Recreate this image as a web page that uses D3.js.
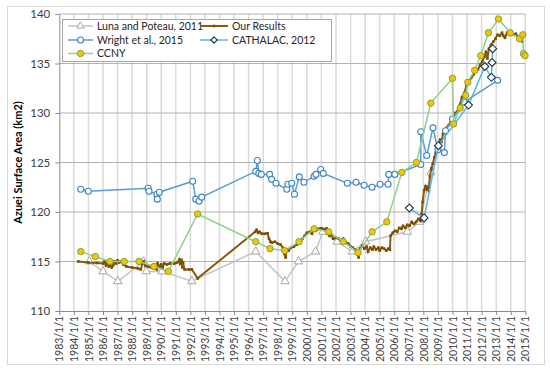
<!DOCTYPE html>
<html>
<head>
<meta charset="utf-8">
<script src="https://cdn.jsdelivr.net/npm/d3@7"></script>
<style>
  body { margin: 0; background: #fff; }
  text { font-family: Lato, "Open Sans", sans-serif; }
</style>
</head>
<body>
<svg id="chart" width="550" height="370"></svg>
<script>
// ---- dados (ano decimal, área km2) ----
const lunaPoteau = [
  [1985.06, 115], [1986.0, 114], [1987.02, 113], [1988.77, 115], [1988.97, 114],
  [1990.05, 114], [1992.1, 113], [1996.49, 116], [1998.5, 113], [1999.42, 115],
  [2000.6, 116], [2001.09, 118], [2002.08, 117], [2003.12, 116], [2004.03, 117],
  [2006.9, 118], [2007.75, 119], [2008.52, 124]
];

const ourResults = [
  [1984.3, 115.0], [1985.0, 114.9], [1985.6, 114.85], [1986.0, 114.8], [1986.1, 115.0],
  [1986.2, 114.6], [1986.3, 114.8], [1986.4, 114.5], [1986.5, 114.7], [1986.6, 114.4],
  [1986.7, 114.6], [1986.8, 115.0], [1986.9, 114.8], [1987.0, 115.1], [1987.1, 114.9],
  [1987.2, 115.0], [1987.4, 114.7], [1987.6, 114.5], [1988.0, 114.4], [1988.4, 114.3],
  [1988.6, 114.2], [1988.7, 114.8], [1988.8, 115.0], [1988.9, 114.6], [1989.1, 114.5],
  [1989.3, 114.4], [1989.5, 114.3], [1989.7, 114.2], [1989.75, 114.8], [1989.9, 114.5],
  [1990.0, 114.7], [1990.1, 114.4], [1990.2, 114.8], [1990.4, 114.7], [1990.6, 114.8],
  [1990.9, 114.8], [1991.1, 114.9], [1991.25, 115.2], [1991.3, 114.8], [1991.4, 115.1],
  [1991.45, 114.4], [1991.5, 114.9], [1991.6, 114.2], [1991.9, 114.2], [1992.1, 114.2],
  [1992.5, 113.3], [1996.45, 118.0], [1996.55, 118.2], [1996.65, 117.9], [1996.75, 118.0],
  [1996.9, 117.8], [1997.1, 117.8], [1997.3, 117.85], [1997.4, 117.3], [1997.5, 117.0],
  [1997.6, 116.9], [1997.8, 117.0], [1998.0, 116.8], [1998.2, 116.7], [1998.35, 116.4],
  [1998.45, 115.8], [1998.55, 115.4], [1998.6, 116.2], [1998.75, 116.1], [1998.9, 116.4],
  [1999.1, 116.5], [1999.3, 116.7], [1999.5, 116.9], [1999.7, 117.3], [1999.85, 117.6],
  [2000.0, 117.9], [2000.2, 118.0], [2000.35, 117.8], [2000.45, 118.2], [2000.6, 118.1],
  [2000.8, 118.3], [2001.0, 118.35], [2001.2, 118.25], [2001.35, 118.35], [2001.45, 117.9],
  [2001.55, 117.6], [2001.7, 117.7], [2001.8, 117.3], [2002.0, 117.4], [2002.2, 117.3],
  [2002.4, 117.0], [2002.5, 117.3], [2002.7, 116.9], [2002.85, 116.8], [2003.0, 116.5],
  [2003.15, 116.4], [2003.3, 116.2], [2003.45, 115.9], [2003.55, 115.4], [2003.65, 116.3],
  [2003.8, 116.6], [2003.95, 116.3], [2004.1, 116.5], [2004.2, 116.0], [2004.35, 116.4],
  [2004.5, 116.2], [2004.6, 116.5], [2004.75, 116.2], [2004.9, 116.4], [2005.0, 116.1],
  [2005.15, 116.4], [2005.3, 116.3], [2005.45, 116.1], [2005.6, 116.3], [2005.7, 116.2],
  [2005.75, 117.6], [2005.9, 117.9], [2006.05, 118.1], [2006.2, 118.0], [2006.35, 118.4],
  [2006.5, 118.3], [2006.6, 118.6], [2006.75, 118.4], [2006.9, 118.7], [2007.05, 118.6],
  [2007.2, 119.0], [2007.35, 118.8], [2007.5, 119.0], [2007.65, 119.3], [2007.8, 119.1],
  [2007.88, 119.8], [2007.95, 121.0], [2008.05, 122.2], [2008.15, 122.6], [2008.22, 122.3],
  [2008.3, 122.5], [2008.38, 122.1], [2008.45, 123.6], [2008.55, 124.4], [2008.65, 124.9],
  [2008.75, 125.5], [2008.85, 126.0], [2008.95, 126.4], [2009.05, 126.9], [2009.15, 127.3],
  [2009.25, 127.1], [2009.35, 127.9], [2009.5, 128.2], [2009.6, 128.5], [2009.75, 128.8],
  [2009.9, 129.2], [2010.05, 129.5], [2010.2, 130.0], [2010.35, 130.2], [2010.5, 130.8],
  [2010.65, 131.6], [2010.8, 132.0], [2010.95, 132.7], [2011.1, 133.0], [2011.3, 133.6],
  [2011.45, 133.9], [2011.6, 134.2], [2011.75, 134.4], [2011.9, 134.9], [2012.05, 135.2],
  [2012.2, 135.7], [2012.3, 136.2], [2012.4, 135.5], [2012.5, 136.5], [2012.65, 136.9],
  [2012.8, 137.2], [2012.95, 137.5], [2013.1, 137.9], [2013.25, 137.8], [2013.4, 138.1],
  [2013.5, 137.8], [2013.6, 137.6], [2013.75, 138.1], [2013.9, 137.9], [2014.05, 138.1],
  [2014.2, 137.9], [2014.35, 138.0], [2014.5, 137.7], [2014.65, 137.6], [2014.8, 137.2]
];

const wright2015 = [
  [1984.47, 122.3], [1984.99, 122.1], [1989.1, 122.4], [1989.16, 122.1], [1989.7, 121.8],
  [1989.73, 121.3], [1989.87, 122.0], [1992.16, 123.1], [1992.37, 121.3], [1992.6, 121.1],
  [1992.78, 121.5], [1996.49, 124.1], [1996.6, 125.2], [1996.7, 123.9], [1996.87, 123.8],
  [1997.44, 123.8], [1997.58, 123.3], [1997.88, 122.9], [1998.62, 122.3], [1998.69, 122.8],
  [1998.96, 122.9], [1999.15, 121.8], [1999.48, 123.55], [1999.8, 123.0], [2000.49, 123.6],
  [2000.63, 123.8], [2000.95, 124.3], [2001.13, 123.9], [2002.78, 122.9], [2003.38, 123.0],
  [2003.93, 122.7], [2004.48, 122.5], [2005.03, 122.8], [2005.58, 122.8], [2005.62, 123.8],
  [2006.04, 123.8], [2007.82, 124.8], [2007.82, 128.1], [2008.23, 125.7], [2008.66, 128.5],
  [2009.0, 126.3], [2009.44, 126.0], [2009.52, 128.2], [2010.0, 129.4], [2010.8, 131.1],
  [2013.1, 133.3]
];

const cathalac2012 = [
  [2007.04, 120.4], [2008.05, 119.4], [2009.03, 126.7], [2011.1, 130.8], [2012.22, 134.7],
  [2012.67, 133.6], [2012.72, 135.1], [2012.76, 136.5]
];

const ccny = [
  [1984.47, 116.0], [1985.47, 115.5], [1986.48, 115.0], [1987.46, 115.0], [1988.47, 115.0],
  [1989.5, 114.5], [1990.49, 114.0], [1992.5, 119.8], [1996.49, 117.0], [1997.47, 116.3],
  [1998.48, 116.1], [1999.46, 117.0], [2000.49, 118.3], [2001.5, 118.0], [2002.5, 117.0],
  [2003.51, 115.9], [2004.48, 118.0], [2005.49, 119.0], [2006.52, 124.0], [2007.52, 125.0],
  [2008.51, 131.0], [2010.0, 133.5], [2010.08, 128.9], [2010.53, 130.5], [2010.91, 131.8],
  [2011.05, 133.1], [2011.52, 134.3], [2011.94, 135.8], [2012.47, 138.1], [2013.16, 139.5],
  [2013.97, 138.1], [2014.6, 137.5], [2014.83, 137.9], [2014.87, 136.0], [2014.98, 135.8]
];

const yTicks = [110, 115, 120, 125, 130, 135, 140];
const xYears = d3.range(1983, 2016);

// ---- desenho ----
const svg = d3.select('#chart');
const x = d3.scaleLinear().domain([1983, 2015]).range([59.3, 525.3]);
const y = d3.scaleLinear().domain([110, 140]).range([311, 14]);

// moldura externa
svg.append('rect')
  .attr('x', 7.5).attr('y', 6.5).attr('width', 537).attr('height', 358)
  .attr('fill', '#fff').attr('stroke', '#d9d9d9');

// grades verticais (anos)
svg.append('g').selectAll('line').data(xYears.slice(1)).join('line')
  .attr('x1', d => x(d)).attr('x2', d => x(d))
  .attr('y1', y(140)).attr('y2', y(110))
  .attr('stroke', '#dadada').attr('stroke-width', 1.5);

// grades horizontais
svg.append('g').selectAll('line').data(yTicks.slice(1)).join('line')
  .attr('x1', x(1983)).attr('x2', x(2015))
  .attr('y1', d => y(d)).attr('y2', d => y(d))
  .attr('stroke', '#b3b3b3').attr('stroke-width', 1.2);

// eixo Y
const yAxis = svg.append('g')
  .attr('transform', `translate(${x(1983)},0)`)
  .call(d3.axisLeft(y).tickValues(yTicks).tickSize(4).tickSizeOuter(0).tickPadding(5));
yAxis.select('.domain').attr('stroke', '#8c8c8c');
yAxis.selectAll('line').attr('stroke', '#8c8c8c');
yAxis.selectAll('text').attr('font-size', 11.5).attr('fill', '#404040');

// eixo X
const xAxis = svg.append('g')
  .attr('transform', `translate(0,${y(110)})`)
  .call(d3.axisBottom(x).tickValues(xYears).tickSize(4).tickSizeOuter(0)
    .tickFormat(d => d + '/1/1'));
xAxis.select('.domain').attr('stroke', '#8c8c8c');
xAxis.selectAll('line').attr('stroke', '#8c8c8c');
xAxis.selectAll('text')
  .attr('transform', 'rotate(-90)')
  .attr('text-anchor', 'end')
  .attr('x', -5).attr('y', 0).attr('dy', '0.35em')
  .attr('font-size', 10.5).attr('fill', '#404040');

// título do eixo Y
svg.append('text')
  .attr('transform', `translate(22,${(y(110) + y(140)) / 2}) rotate(-90)`)
  .attr('text-anchor', 'middle')
  .attr('font-size', 11).attr('font-weight', 'bold').attr('fill', '#000')
  .text('Azuei Surface Area (km2)');

const line = d3.line().x(d => x(d[0])).y(d => y(d[1]));

// Luna and Poteau
svg.append('path').datum(lunaPoteau).attr('d', line)
  .attr('fill', 'none').attr('stroke', '#c3c3c3').attr('stroke-width', 1.5);
const tri = d3.symbol().type(d3.symbolTriangle).size(30);
svg.append('g').selectAll('path').data(lunaPoteau).join('path')
  .attr('d', tri)
  .attr('transform', d => `translate(${x(d[0])},${y(d[1])})`)
  .attr('fill', '#fff').attr('stroke', '#a6a6a6').attr('stroke-width', 1);

// Our Results
svg.append('path').datum(ourResults).attr('d', line)
  .attr('fill', 'none').attr('stroke', '#8b5a0a').attr('stroke-width', 2);
svg.append('g').selectAll('rect').data(ourResults).join('rect')
  .attr('x', d => x(d[0]) - 1.3).attr('y', d => y(d[1]) - 1.3)
  .attr('width', 2.6).attr('height', 2.6)
  .attr('fill', '#7a4e05');

// Wright et al.
svg.append('path').datum(wright2015).attr('d', line)
  .attr('fill', 'none').attr('stroke', '#5b9bd5').attr('stroke-width', 1.5);
svg.append('g').selectAll('circle').data(wright2015).join('circle')
  .attr('cx', d => x(d[0])).attr('cy', d => y(d[1])).attr('r', 3)
  .attr('fill', '#fff').attr('stroke', '#3d85c6').attr('stroke-width', 1.1);

// CATHALAC
svg.append('path').datum(cathalac2012).attr('d', line)
  .attr('fill', 'none').attr('stroke', '#5ab4e5').attr('stroke-width', 1.5);
const diamond = d3.symbol().type(d3.symbolDiamond2).size(40);
svg.append('g').selectAll('path').data(cathalac2012).join('path')
  .attr('d', diamond)
  .attr('transform', d => `translate(${x(d[0])},${y(d[1])})`)
  .attr('fill', '#fff').attr('stroke', '#1f3347').attr('stroke-width', 1.1);

// CCNY
svg.append('path').datum(ccny).attr('d', line)
  .attr('fill', 'none').attr('stroke', '#8fd08a').attr('stroke-width', 1.5);
svg.append('g').selectAll('circle').data(ccny).join('circle')
  .attr('cx', d => x(d[0])).attr('cy', d => y(d[1])).attr('r', 3.2)
  .attr('fill', '#ffc000').attr('stroke', '#70ad47').attr('stroke-width', 1);

// ---- legenda ----
const legend = svg.append('g');
legend.append('rect')
  .attr('x', 62.5).attr('y', 19.5).attr('width', 269).attr('height', 42)
  .attr('fill', '#fff').attr('stroke', '#a6a6a6');

const legendItems = [
  { name: 'Luna and Poteau, 2011', col: 0, row: 0, stroke: '#c3c3c3', marker: 'tri' },
  { name: 'Our Results', col: 1, row: 0, stroke: '#8b5a0a', marker: 'sq' },
  { name: 'Wright et al., 2015', col: 0, row: 1, stroke: '#5b9bd5', marker: 'circ' },
  { name: 'CATHALAC, 2012', col: 1, row: 1, stroke: '#5ab4e5', marker: 'dia' },
  { name: 'CCNY', col: 0, row: 2, stroke: '#8fd08a', marker: 'ccny' }
];
const colX = [[68, 93, 97], [200, 228, 232]];
const rowY = [26, 40, 53.5];

legendItems.forEach(function (it) {
  const c = colX[it.col];
  const ly = rowY[it.row];
  const mx = (c[0] + c[1]) / 2;
  legend.append('line')
    .attr('x1', c[0]).attr('x2', c[1]).attr('y1', ly).attr('y2', ly)
    .attr('stroke', it.stroke).attr('stroke-width', it.marker === 'sq' ? 2 : 1.5);
  if (it.marker === 'tri') {
    legend.append('path').attr('d', d3.symbol().type(d3.symbolTriangle).size(22))
      .attr('transform', `translate(${mx},${ly})`)
      .attr('fill', '#fff').attr('stroke', '#a6a6a6');
  } else if (it.marker === 'sq') {
    legend.append('rect').attr('x', mx - 1.3).attr('y', ly - 1.3)
      .attr('width', 2.6).attr('height', 2.6).attr('fill', '#7a4e05');
  } else if (it.marker === 'circ') {
    legend.append('circle').attr('cx', mx).attr('cy', ly).attr('r', 3)
      .attr('fill', '#fff').attr('stroke', '#3d85c6').attr('stroke-width', 1.1);
  } else if (it.marker === 'dia') {
    legend.append('path').attr('d', d3.symbol().type(d3.symbolDiamond2).size(26))
      .attr('transform', `translate(${mx},${ly})`)
      .attr('fill', '#fff').attr('stroke', '#1f3347').attr('stroke-width', 1.1);
  } else {
    legend.append('circle').attr('cx', mx).attr('cy', ly).attr('r', 3.2)
      .attr('fill', '#ffc000').attr('stroke', '#70ad47');
  }
  legend.append('text')
    .attr('x', c[2]).attr('y', ly).attr('dy', '0.35em')
    .attr('font-size', 10.5).attr('fill', '#262626')
    .text(it.name);
});
</script>
</body>
</html>
